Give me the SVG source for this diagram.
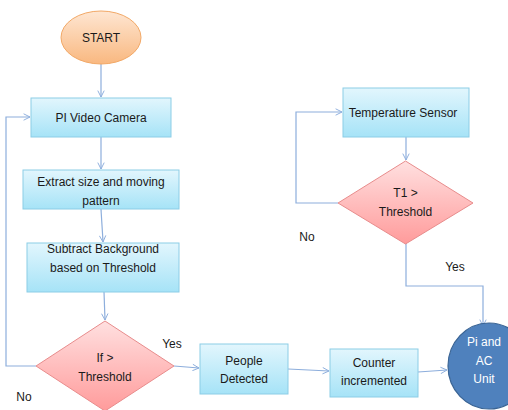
<svg xmlns="http://www.w3.org/2000/svg" width="508" height="410" viewBox="0 0 508 410">
<defs>
<linearGradient id="gBox" x1="0" y1="0" x2="0" y2="1"><stop offset="0" stop-color="#E2F6FD"/><stop offset="1" stop-color="#A6E3F7"/></linearGradient>
<linearGradient id="gDia" x1="0" y1="0" x2="0" y2="1"><stop offset="0" stop-color="#FFE0E0"/><stop offset="1" stop-color="#FF9B9B"/></linearGradient>
<linearGradient id="gStart" x1="0" y1="0" x2="0" y2="1"><stop offset="0" stop-color="#FEE6D2"/><stop offset="1" stop-color="#F9B880"/></linearGradient>
<marker id="arr" viewBox="0 0 10 10" refX="9" refY="5" markerWidth="8" markerHeight="8" orient="auto" markerUnits="userSpaceOnUse">
<polyline points="1,1 9,5 1,9" fill="none" stroke="#8DAEDC" stroke-width="1.2"/>
</marker>
</defs>
<style>
.box{fill:url(#gBox);stroke:#8CCDE6;stroke-width:1}
.dia{fill:url(#gDia);stroke:#E88C8C;stroke-width:1}
.st{fill:url(#gStart);stroke:#F2A866;stroke-width:1}
.t{font-family:"Liberation Sans",Arial,sans-serif;font-size:12px;fill:#1A1A1A;text-anchor:middle}
.w{fill:#FFFFFF}
.c{fill:none;stroke:#8DAEDC;stroke-width:1.2;marker-end:url(#arr)}
</style>
<rect width="508" height="410" fill="#FFFFFF"/>
<g id="connectors">
<line class="c" x1="101" y1="64" x2="101" y2="97"/>
<line class="c" x1="101" y1="137" x2="101" y2="169"/>
<line class="c" x1="101" y1="209" x2="103" y2="242"/>
<line class="c" x1="104" y1="292" x2="105" y2="320"/>
<polyline class="c" points="36,366 6,366 6,117 30,117"/>
<line class="c" x1="174" y1="366" x2="199" y2="368"/>
<line class="c" x1="288" y1="369" x2="329" y2="371"/>
<line class="c" x1="418" y1="372" x2="447" y2="370"/>
<line class="c" x1="406" y1="137" x2="406" y2="160"/>
<polyline class="c" points="338,203 296,203 296,112 342,112"/>
<polyline class="c" points="406,243 406,286 483,286 483,326"/>
</g>
<g id="start">
<ellipse class="st" cx="101" cy="37.5" rx="40" ry="26.5"/>
<text class="t" x="101" y="42">START</text>
</g>
<g id="camera">
<rect class="box" x="31" y="98" width="140" height="39"/>
<text class="t" x="101" y="122">PI Video Camera</text>
</g>
<g id="extract">
<rect class="box" x="23" y="170" width="156" height="39"/>
<text class="t" x="101" y="186">Extract size and moving</text>
<text class="t" x="101" y="205">pattern</text>
</g>
<g id="subtract">
<rect class="box" x="27" y="243" width="152" height="49"/>
<text class="t" x="103" y="253">Subtract Background</text>
<text class="t" x="103" y="272">based on Threshold</text>
</g>
<g id="ifthreshold">
<polygon class="dia" points="105,321 174,366 105,411 36,366"/>
<text class="t" x="105" y="362">If &gt;</text>
<text class="t" x="105" y="381">Threshold</text>
</g>
<g id="people">
<rect class="box" x="200" y="344" width="88" height="50"/>
<text class="t" x="244" y="365">People</text>
<text class="t" x="244" y="383">Detected</text>
</g>
<g id="counter">
<rect class="box" x="330" y="349" width="88" height="48"/>
<text class="t" x="374" y="367">Counter</text>
<text class="t" x="374" y="385">incremented</text>
</g>
<g id="piac">
<ellipse cx="489" cy="366" rx="41" ry="43" fill="#4F81BD" stroke="#3A6494" stroke-width="1.2"/>
<text class="t w" x="484" y="346">Pi and</text>
<text class="t w" x="484" y="365">AC</text>
<text class="t w" x="484" y="383">Unit</text>
</g>
<g id="tempsensor">
<rect class="box" x="343" y="88" width="126" height="49"/>
<text class="t" x="403" y="117">Temperature Sensor</text>
</g>
<g id="t1threshold">
<polygon class="dia" points="405.5,161 473,203 405.5,244 338,203"/>
<text class="t" x="405.5" y="197">T1 &gt;</text>
<text class="t" x="405.5" y="216">Threshold</text>
</g>
<g id="labels">
<text class="t" x="24" y="401">No</text>
<text class="t" x="172" y="348">Yes</text>
<text class="t" x="307" y="241">No</text>
<text class="t" x="455" y="271">Yes</text>
</g>
</svg>
